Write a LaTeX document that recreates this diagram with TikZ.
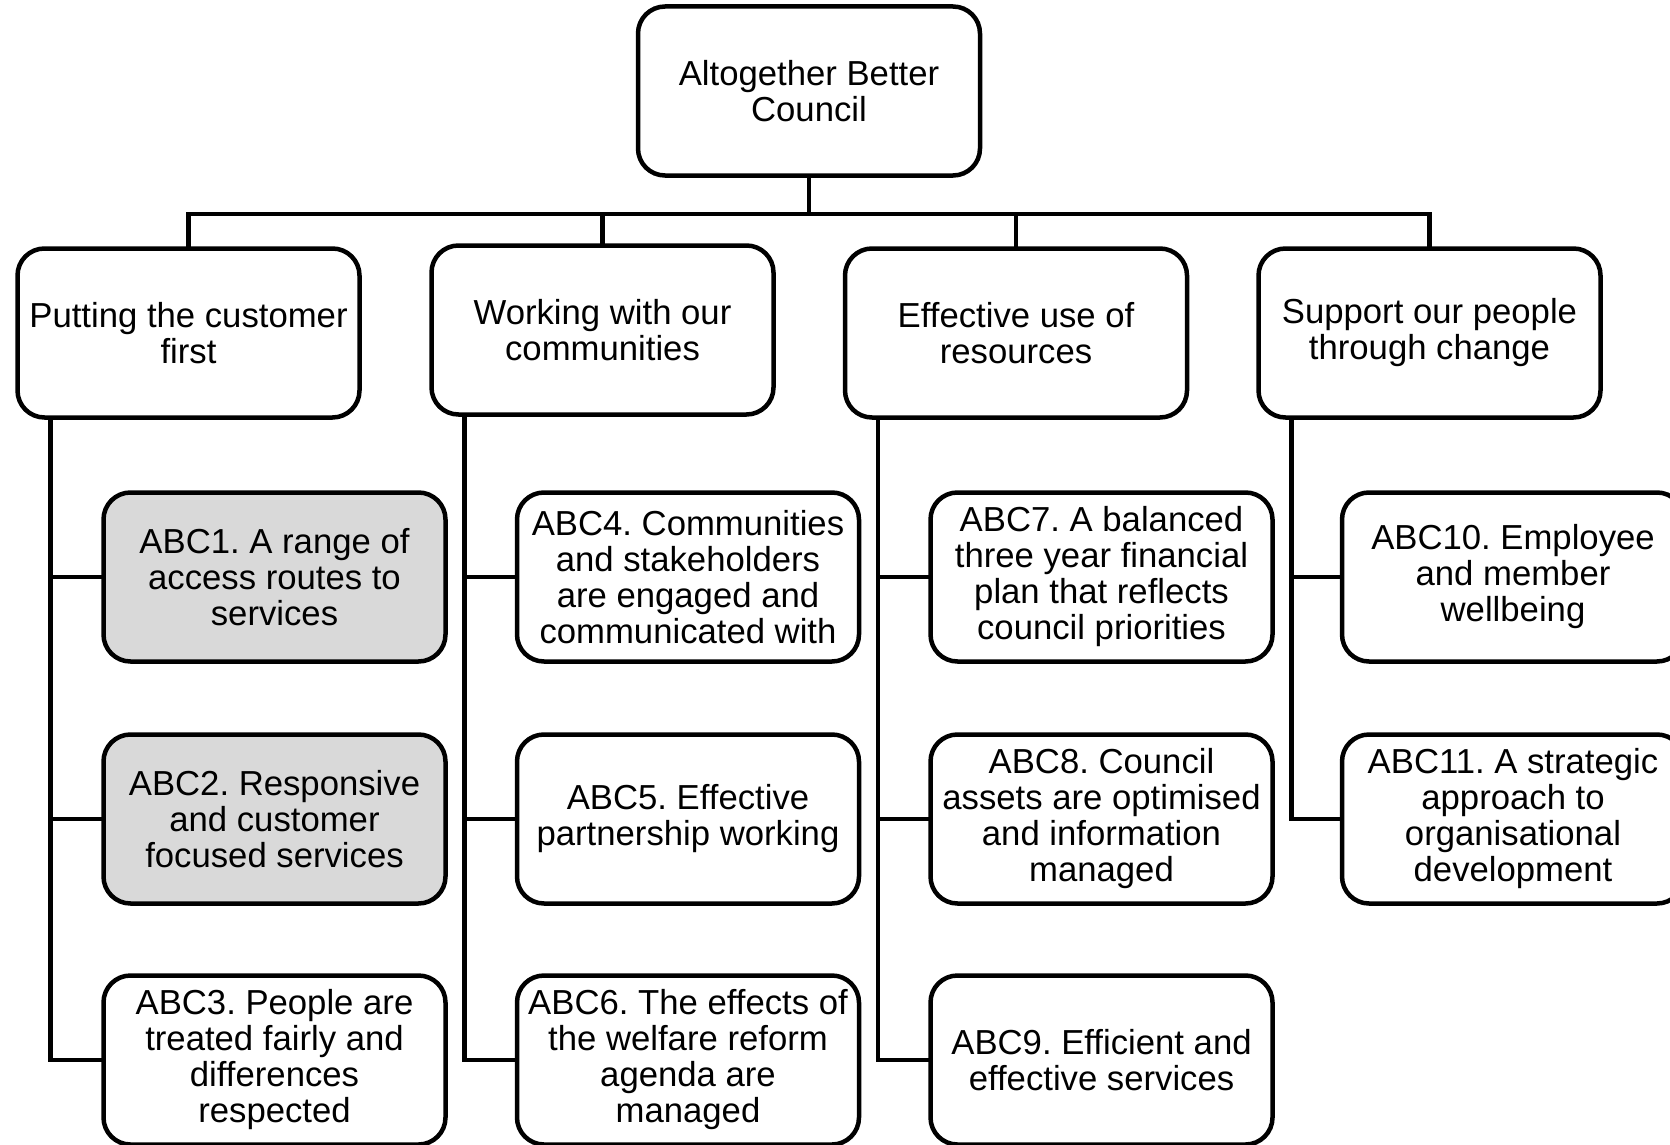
\documentclass[tikz,border=0pt]{standalone}
\usepackage{fontspec}
\setmainfont{Liberation Sans}
\begin{document}
\frenchspacing
\begin{tikzpicture}[x=1pt,y=-1pt,
  box/.style={draw=black, line width=4.5pt, rounded corners=27pt, fill=white,
    minimum width=342pt, minimum height=169pt, inner sep=0pt, align=center,
    font=\fontsize{34.7}{36}\selectfont},
  graybox/.style={box, fill=black!15},
  conn/.style={line width=4.5pt, line cap=rect}]
\useasboundingbox (0,0) rectangle (1670,1145);
% root
\node[box] (root) at (809,91) {Altogether Better\\Council};
% level 2
\node[box] (p1) at (188.5,333) {Putting the customer\\first};
\node[box] (p2) at (602.5,330) {Working with our\\communities};
\node[box] (p3) at (1016,333) {Effective use of\\resources};
\node[box] (p4) at (1429.5,333) {Support our people\\through change};
% children
\node[graybox] (c1) at (274.5,577) {ABC1. A range of\\access routes to\\services};
\node[graybox] (c2) at (274.5,819) {ABC2. Responsive\\and customer\\focused services};
\node[box] (c3) at (274.5,1060) {ABC3. People are\\treated fairly and\\differences\\respected};
\node[box] (c4) at (688,577) {ABC4. Communities\\and stakeholders\\are engaged and\\communicated with};
\node[box] (c5) at (688,819) {ABC5. Effective\\partnership working};
\node[box] (c6) at (688,1060) {ABC6. The effects of\\the welfare reform\\agenda are\\managed};
\node[box] (c7) at (1101.5,577) {ABC7. A balanced\\three year financial\\plan that reflects\\council priorities};
\node[box] (c8) at (1101.5,819) {ABC8. Council\\assets are optimised\\and information\\managed};
\node[box] (c9) at (1101.5,1060) {ABC9. Efficient and\\effective services};
\node[box] (c10) at (1513,577) {ABC10. Employee\\and member\\wellbeing};
\node[box] (c11) at (1513,819) {ABC11. A strategic\\approach to\\organisational\\development};
% tree connectors
\coordinate (bar) at (809,214);
\draw[conn] (root.south) -- (bar);
\foreach \p in {p1,p2,p3,p4} \draw[conn] (\p.north) |- (bar);
% spines
\foreach \p/\a/\b/\c in {p1/c1/c2/c3, p2/c4/c5/c6, p3/c7/c8/c9} {
  \coordinate (s\p) at ([xshift=35pt]\p.south west);
  \draw[conn] (s\p) |- (\c.west);
  \draw[conn] (\a.west) -- (\a.west -| s\p);
  \draw[conn] (\b.west) -- (\b.west -| s\p);
}
\coordinate (sp4) at ([xshift=35pt]p4.south west);
\draw[conn] (sp4) |- (c11.west);
\draw[conn] (c10.west) -- (c10.west -| sp4);
\end{tikzpicture}
\end{document}
